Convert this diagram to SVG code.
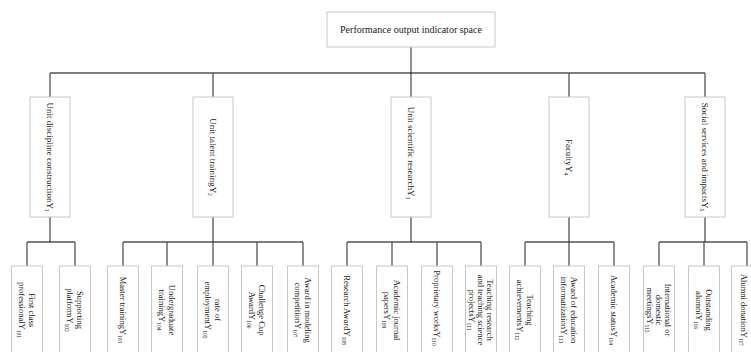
<svg xmlns="http://www.w3.org/2000/svg" width="751" height="352" viewBox="0 0 751 352">
<style>
.box{fill:#fff;stroke:#c8c8c8;stroke-width:1}
.t{font-family:"Liberation Serif","Times New Roman",serif;font-size:10px;fill:#1a1a1a;text-anchor:middle}
.m{font-size:9px}
.l{font-size:8.5px}
.s{font-size:5.5px}
.h{stroke:#000;stroke-width:1.1;fill:none}
.v{stroke:#555;stroke-width:1.3;fill:none}
</style>
<rect width="751" height="352" fill="#fff"/>
<g id="connectors">
<path class="v" d="M411 47V97"/>
<path class="h" d="M50 73H705"/>
<path class="v" d="M50 73V97M213 73V97M569 73V97M705 73V97"/>
<path class="v" d="M50 217V242M213 217V242M411 217V242M569 217V242M705 217V242"/>
<path class="h" d="M27 242H75M123 242H303M347 242H481M525 242H614M659 242H747"/>
<path class="v" d="M27 242V266M75 242V266M123 242V266M167 242V266M213 242V266M257 242V266M303 242V266M347 242V266M392 242V266M437 242V266M481 242V266M525 242V266M569 242V266M614 242V266M659 242V266M704 242V266M747 242V266"/>
</g>
<g id="root">
<rect class="box" x="327" y="12" width="168" height="35"/>
<text class="t" x="411" y="33">Performance output indicator space</text>
</g>
<g id="y1"><rect class="box" x="30" y="97" width="40" height="120"/>
<text class="t m" transform="translate(50,157) rotate(90)" y="3">Unit discipline constructionY<tspan class="s" dy="2">1</tspan></text></g>
<g id="y2"><rect class="box" x="193" y="97" width="40" height="120"/>
<text class="t m" transform="translate(213,157) rotate(90)" y="3">Unit talent trainingY<tspan class="s" dy="2">2</tspan></text></g>
<g id="y3"><rect class="box" x="391" y="97" width="40" height="120"/>
<text class="t m" transform="translate(411,153) rotate(90)" y="3">Unit scientific researchY<tspan class="s" dy="2">3</tspan></text></g>
<g id="y4"><rect class="box" x="549" y="97" width="40" height="120"/>
<text class="t m" transform="translate(569,157) rotate(90)" y="3">FacultyY<tspan class="s" dy="2">4</tspan></text></g>
<g id="y5"><rect class="box" x="685" y="97" width="40" height="120"/>
<text class="t m" transform="translate(705,157) rotate(90)" y="3">Social services and impactsY<tspan class="s" dy="2">5</tspan></text></g>

<g id="y101"><rect class="box" x="11.5" y="266" width="31" height="95"/>
<g transform="translate(27,310) rotate(90)"><text class="t l" y="-2">First class</text><text class="t l" y="8">professionalY<tspan class="s" dy="2">101</tspan></text></g></g>
<g id="y102"><rect class="box" x="59.5" y="266" width="31" height="95"/>
<g transform="translate(75,310) rotate(90)"><text class="t l" y="-2">Supporting</text><text class="t l" y="8">platformY<tspan class="s" dy="2">102</tspan></text></g></g>
<g id="y103"><rect class="box" x="107.5" y="266" width="31" height="95"/>
<g transform="translate(123,310) rotate(90)"><text class="t l" y="3">Master trainingY<tspan class="s" dy="2">103</tspan></text></g></g>
<g id="y104"><rect class="box" x="151.5" y="266" width="31" height="95"/>
<g transform="translate(167,310) rotate(90)"><text class="t l" y="-2">Undergraduate</text><text class="t l" y="8">trainingY<tspan class="s" dy="2">104</tspan></text></g></g>
<g id="y105"><rect class="box" x="197.5" y="266" width="31" height="95"/>
<g transform="translate(213,310) rotate(90)"><text class="t l" y="-2">rate of</text><text class="t l" y="8">employmentY<tspan class="s" dy="2">105</tspan></text></g></g>
<g id="y106"><rect class="box" x="241.5" y="266" width="31" height="95"/>
<g transform="translate(257,310) rotate(90)"><text class="t l" y="-2">Challenge Cup</text><text class="t l" y="8">AwardY<tspan class="s" dy="2">106</tspan></text></g></g>
<g id="y107"><rect class="box" x="287.5" y="266" width="31" height="95"/>
<g transform="translate(303,310) rotate(90)"><text class="t l" y="-2">Award in modeling</text><text class="t l" y="8">competitionY<tspan class="s" dy="2">107</tspan></text></g></g>
<g id="y108"><rect class="box" x="331.5" y="266" width="31" height="95"/>
<g transform="translate(347,310) rotate(90)"><text class="t l" y="3">Research AwardY<tspan class="s" dy="2">108</tspan></text></g></g>
<g id="y109"><rect class="box" x="376.5" y="266" width="31" height="95"/>
<g transform="translate(392,310) rotate(90)"><text class="t l" y="-2">Academic journal</text><text class="t l" y="8">papersY<tspan class="s" dy="2">109</tspan></text></g></g>
<g id="y110"><rect class="box" x="421.5" y="266" width="31" height="95"/>
<g transform="translate(437,308) rotate(90)"><text class="t l" y="3">Proprietary worksY<tspan class="s" dy="2">110</tspan></text></g></g>
<g id="y111"><rect class="box" x="465.5" y="266" width="31" height="95"/>
<g transform="translate(481,310) rotate(90)"><text class="t l" y="-6">Teaching research</text><text class="t l" y="3">and teaching science</text><text class="t l" y="12">projectsY<tspan class="s" dy="2">111</tspan></text></g></g>
<g id="y112"><rect class="box" x="509.5" y="266" width="31" height="95"/>
<g transform="translate(525,310) rotate(90)"><text class="t l" y="-2">Teaching</text><text class="t l" y="8">achievementsY<tspan class="s" dy="2">112</tspan></text></g></g>
<g id="y113"><rect class="box" x="553.5" y="266" width="31" height="95"/>
<g transform="translate(569,310) rotate(90)"><text class="t l" y="-2">Award of education</text><text class="t l" y="8">informatizationY<tspan class="s" dy="2">113</tspan></text></g></g>
<g id="y114"><rect class="box" x="598.5" y="266" width="31" height="95"/>
<g transform="translate(614,310) rotate(90)"><text class="t l" y="3">Academic statusY<tspan class="s" dy="2">114</tspan></text></g></g>
<g id="y115"><rect class="box" x="643.5" y="266" width="31" height="95"/>
<g transform="translate(659,310) rotate(90)"><text class="t l" y="-6">International or</text><text class="t l" y="3">domestic</text><text class="t l" y="12">meetingsY<tspan class="s" dy="2">115</tspan></text></g></g>
<g id="y116"><rect class="box" x="688.5" y="266" width="31" height="95"/>
<g transform="translate(704,310) rotate(90)"><text class="t l" y="-2">Outstanding</text><text class="t l" y="8">alumniY<tspan class="s" dy="2">116</tspan></text></g></g>
<g id="y117"><rect class="box" x="731.5" y="266" width="31" height="95"/>
<g transform="translate(744,310) rotate(90)"><text class="t l" y="3">Alumni donationY<tspan class="s" dy="2">117</tspan></text></g></g>
</svg>
